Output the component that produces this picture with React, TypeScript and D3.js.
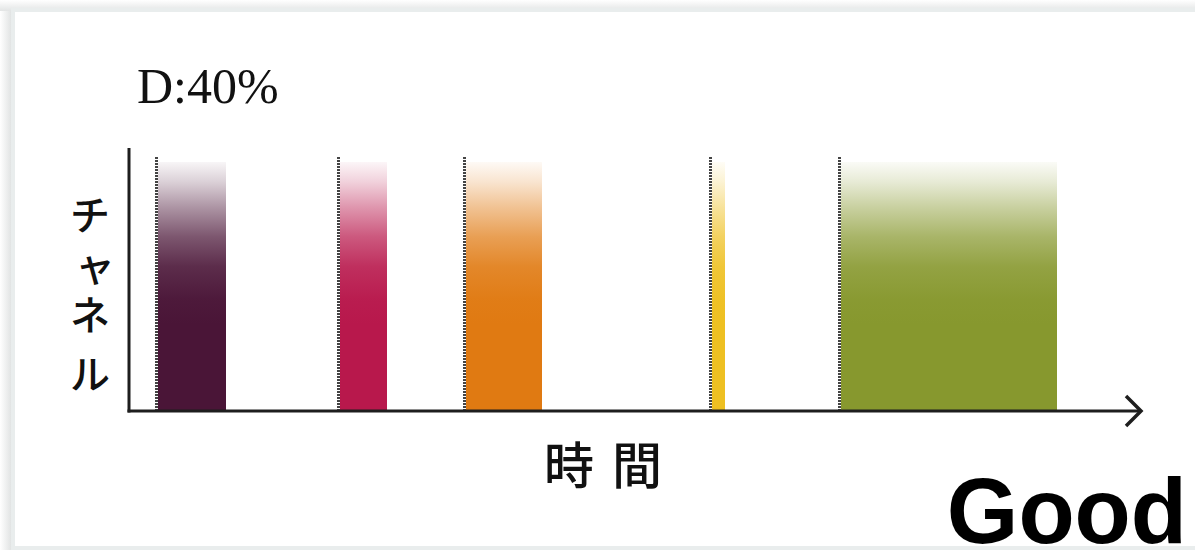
import React from "react";
import * as d3 from "d3";

// Data: active transmission segments on the time axis (time units)
const segmentNames = ["A", "B", "C", "D", "E"];
const segmentStarts = [29, 211, 337, 583, 712];
const segmentEnds = [97, 258, 413, 596, 928];
const segmentColors = ["#4a1537", "#b8184c", "#e07a12", "#eec022", "#87982e"];
const timeDomain = [0, 1011];
const titleText = "D:40%";
const yLabelChars = ["チ", "ャ", "ネ", "ル"];
const xLabelText = "時間";
const verdictText = "Good";

const W = 1195;
const H = 550;

const fadeStops: [number, number][] = [
  [0, 0.04],
  [0.08, 0.2],
  [0.18, 0.45],
  [0.3, 0.72],
  [0.42, 0.9],
  [0.55, 0.98],
  [0.65, 1],
  [1, 1],
];

export default function App() {
  const x = d3.scaleLinear().domain(timeDomain).range([129, 1140]);
  const y = d3.scaleLinear().domain([0, 1]).range([411, 162]);
  const axisY0 = 411;
  const serif = "'Liberation Serif', 'DejaVu Serif', serif";
  const cjk = "'Noto Sans CJK JP', sans-serif";
  const yCharY = [213, 264, 313, 372];

  return (
    <svg
      width={W}
      height={H}
      style={{ position: "absolute", left: 0, top: 0, background: "#fff" }}
    >
      <defs>
        <linearGradient id="shadowL" x1="0" x2="1" y1="0" y2="0">
          <stop offset="0" stopColor="#ffffff" />
          <stop offset="1" stopColor="#d9dcdc" />
        </linearGradient>
        <linearGradient id="shadowT" x1="0" x2="0" y1="0" y2="1">
          <stop offset="0" stopColor="#ffffff" />
          <stop offset="1" stopColor="#e2e4e4" />
        </linearGradient>
        {segmentColors.map((c, i) => (
          <linearGradient key={i} id={`grad${i}`} x1="0" x2="0" y1="0" y2="1">
            {fadeStops.map(([o, a], k) => (
              <stop key={k} offset={o} stopColor={c} stopOpacity={a} />
            ))}
          </linearGradient>
        ))}
      </defs>

      {/* card frame */}
      <rect x={0} y={0} width={14} height={H} fill="url(#shadowL)" />
      <rect x={0} y={0} width={W} height={11} fill="url(#shadowT)" />
      <rect x={13} y={10} width={W} height={538} fill="#ffffff" stroke="#e9eded" strokeWidth={4} />

      {/* title */}
      <text x={137} y={103} fontFamily={serif} fontSize={50} fill="#111">
        {titleText}
      </text>

      {/* bars */}
      {segmentNames.map((n, i) => (
        <rect
          key={n}
          x={x(segmentStarts[i])}
          y={y(1)}
          width={x(segmentEnds[i]) - x(segmentStarts[i])}
          height={y(0) - y(1)}
          fill={`url(#grad${i})`}
        />
      ))}

      {/* dashed start markers */}
      {segmentNames.map((n, i) => (
        <line
          key={"d" + n}
          x1={x(segmentStarts[i]) - 1.5}
          x2={x(segmentStarts[i]) - 1.5}
          y1={157}
          y2={axisY0}
          stroke="#444"
          strokeWidth={3}
          strokeDasharray="2,1"
        />
      ))}

      {/* axes */}
      <line x1={x(0)} x2={x(0)} y1={148} y2={axisY0 + 1.5} stroke="#1e1e1e" strokeWidth={3} />
      <line x1={x(0) - 1.5} x2={x(timeDomain[1]) + 1} y1={axisY0} y2={axisY0} stroke="#1e1e1e" strokeWidth={3} />
      <path
        d={`M${x(timeDomain[1]) - 14},${axisY0 - 15} L${x(timeDomain[1]) + 1},${axisY0} L${x(timeDomain[1]) - 14},${axisY0 + 15}`}
        fill="none"
        stroke="#1e1e1e"
        strokeWidth={3.5}
      />

      {/* y label */}
      {yLabelChars.map((ch, i) => (
        <text
          key={ch + i}
          x={ch === "ャ" ? 95 : 90}
          y={yCharY[i]}
          fontFamily={cjk}
          fontSize={40}
          fontWeight={500}
          textAnchor="middle"
          dominantBaseline="central"
          fill="#111"
        >
          {ch}
        </text>
      ))}

      {/* x label */}
      <text
        x={612}
        y={462}
        fontFamily={cjk}
        fontSize={50}
        fontWeight={500}
        textAnchor="middle"
        dominantBaseline="central"
        letterSpacing={18}
        fill="#111"
      >
        {xLabelText}
      </text>

      {/* verdict */}
      <text
        x={1187}
        y={543}
        fontFamily="'Liberation Sans', Arial, sans-serif"
        fontWeight={700}
        fontSize={92}
        textAnchor="end"
        fill="#000"
      >
        {verdictText}
      </text>
    </svg>
  );
}
